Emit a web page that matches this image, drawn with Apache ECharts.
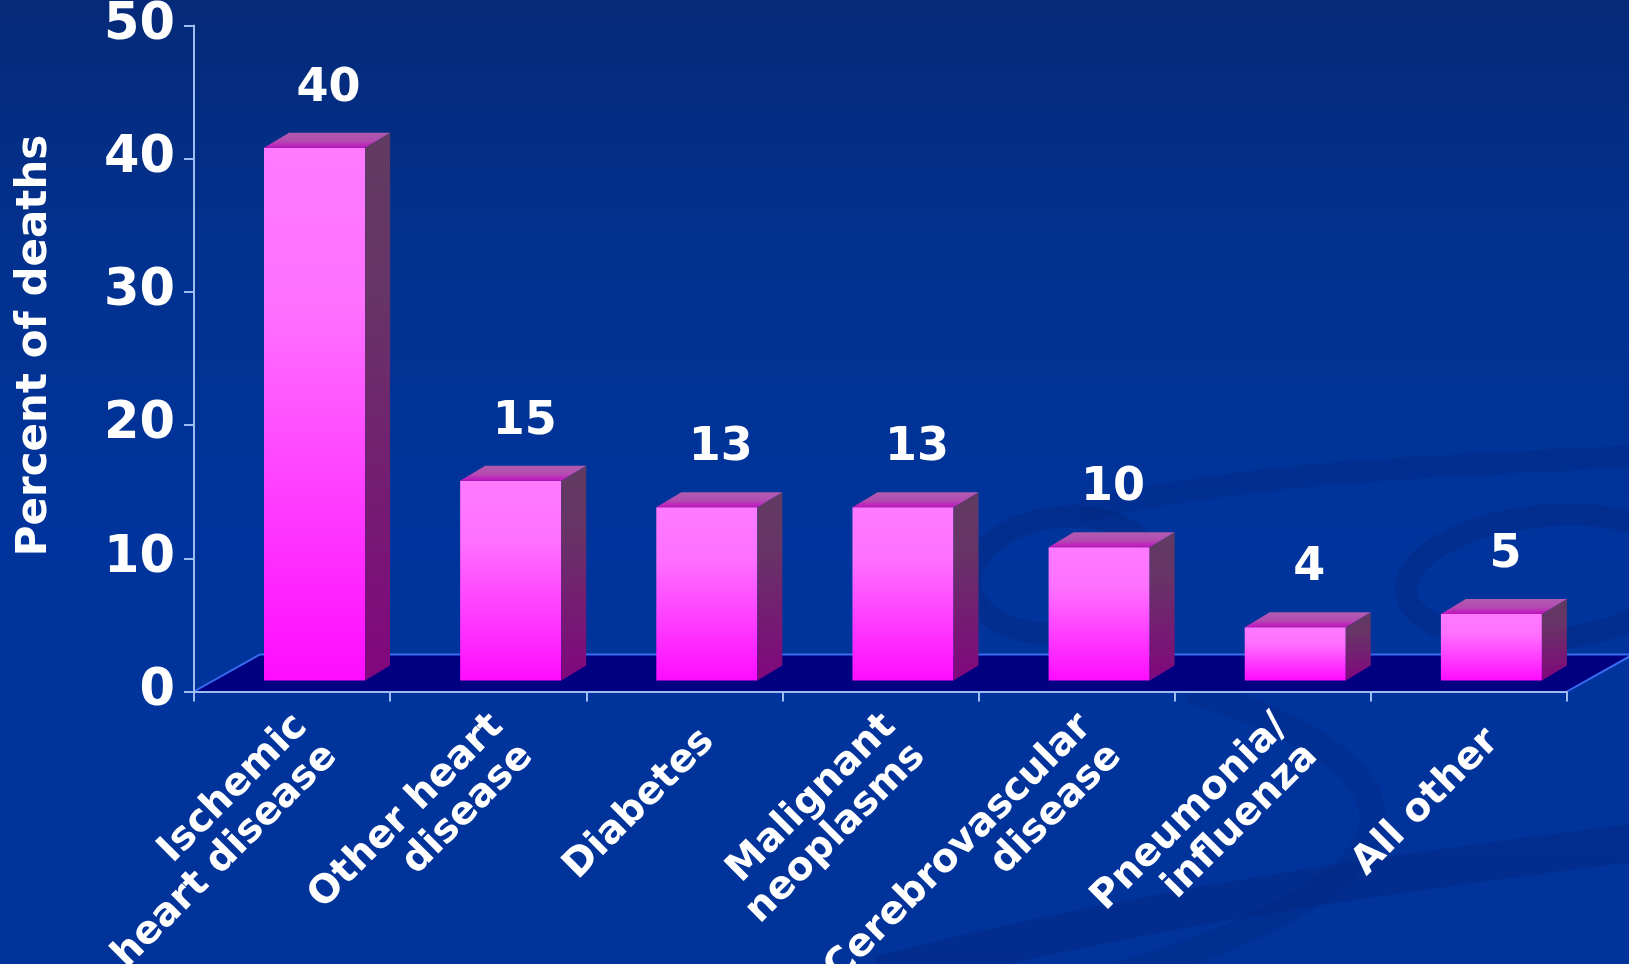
<!DOCTYPE html>
<html>
<head>
<meta charset="utf-8">
<script src="https://cdn.jsdelivr.net/npm/echarts@6/dist/echarts.min.js"></script>
<style>
  html, body { margin: 0; padding: 0; background: #00339a; }
  #chart { width: 1629px; height: 964px; }
</style>
</head>
<body>
<div id="chart"></div>
<script>
// Causes of death, share of all deaths (%)
const categories = [
  'Ischemic\nheart disease',
  'Other heart\ndisease',
  'Diabetes',
  'Malignant\nneoplasms',
  'Cerebrovascular\ndisease',
  'Pneumonia/\ninfluenza',
  'All other'
];
const percentOfDeaths = [40, 15, 13, 13, 10, 4, 5];
const yMin = 0;
const yMax = 50;
const yStep = 10;
const yTitle = 'Percent of deaths';

const FONT = '"DejaVu Sans", "Verdana", sans-serif';

// pseudo-3D geometry (pixels)
const FLOOR_DX = 66, FLOOR_DY = 37;    // depth of the floor plate
const BAR_DX = 25, BAR_DY = 15;        // depth of each block
const BAR_LIFT = 11;                    // front face sits a little back on the floor
const BAR_LEFT = 0.143, BAR_WIDTH = 0.515; // fractions of a category band

function vGrad(stops) {
  return new echarts.graphic.LinearGradient(0, 0, 0, 1,
    stops.map(([offset, color]) => ({ offset, color })));
}

function renderFloor(params, api) {
  const c0 = api.coord([0, yMin]);
  const band = api.size([1, 0])[0];
  const L = c0[0] - band / 2;
  const R = L + band * categories.length;
  const y0 = c0[1];
  return {
    type: 'group',
    children: [
      {
        type: 'polygon',
        shape: { points: [[L, y0], [R, y0], [R + FLOOR_DX, y0 - FLOOR_DY], [L + FLOOR_DX, y0 - FLOOR_DY]] },
        style: { fill: '#000080' }
      },
      {
        type: 'polyline',
        shape: { points: [[L, y0], [L + FLOOR_DX, y0 - FLOOR_DY], [R + FLOOR_DX, y0 - FLOOR_DY], [R, y0]] },
        style: { stroke: '#3a6cf2', lineWidth: 2, fill: null }
      }
    ]
  };
}

function renderBar(params, api) {
  const i = api.value(0);
  const v = api.value(1);
  const base = api.coord([i, yMin]);
  const top = api.coord([i, v]);
  const band = api.size([1, 0])[0];
  const w = band * BAR_WIDTH;
  const x0 = base[0] - band * BAR_LEFT;
  const yb = base[1] - BAR_LIFT;
  const yt = top[1] - BAR_LIFT;
  return {
    type: 'group',
    children: [
      {
        type: 'rect',
        shape: { x: x0, y: yt, width: w, height: yb - yt },
        style: { fill: vGrad([[0, '#ff7aff'], [0.3, '#ff70ff'], [1, '#ff0cff']]) }
      },
      {
        type: 'polygon',
        shape: { points: [[x0 + w, yt], [x0 + w + BAR_DX, yt - BAR_DY], [x0 + w + BAR_DX, yb - BAR_DY], [x0 + w, yb]] },
        style: { fill: vGrad([[0, '#603b62'], [0.3, '#673466'], [1, '#82067e']]) }
      },
      {
        type: 'polygon',
        shape: { points: [[x0, yt], [x0 + BAR_DX, yt - BAR_DY], [x0 + w + BAR_DX, yt - BAR_DY], [x0 + w, yt]] },
        style: { fill: vGrad([[0, '#b05cae'], [0.55, '#b44bb2'], [1, '#c212c0']]) }
      },
      {
        type: 'text',
        x: x0 + w / 2 + 14,
        y: yt - BAR_DY - 44,
        style: {
          text: String(v),
          fill: '#ffffff',
          fontSize: 46,
          fontWeight: 'bold',
          fontFamily: FONT,
          align: 'center',
          verticalAlign: 'middle'
        }
      }
    ]
  };
}

// rotated, right-aligned category labels under the axis
function renderCategoryLabel(params, api) {
  const i = api.value(0);
  const p = api.coord([i, yMin]);
  return {
    type: 'text',
    x: p[0] + 24,
    y: p[1] + 44,
    rotation: Math.PI / 4,
    style: {
      text: categories[i],
      fill: '#ffffff',
      fontSize: 39,
      fontWeight: 'bold',
      fontFamily: FONT,
      lineHeight: 42,
      align: 'right',
      verticalAlign: 'middle'
    }
  };
}

// faint ribbons in the backdrop
const swirlStyle = (w, a) => ({ stroke: 'rgba(6, 34, 116, ' + a + ')', lineWidth: w, fill: null });
const backdrop = [
  { type: 'ellipse', z: -5, x: 1062, y: 575, rotation: 0.12, shape: { cx: 0, cy: 0, rx: 92, ry: 58 }, style: swirlStyle(22, 0.32) },
  { type: 'ellipse', z: -5, x: 1545, y: 578, rotation: 0.1, shape: { cx: 0, cy: 0, rx: 140, ry: 62 }, style: swirlStyle(22, 0.3) },
  { type: 'bezierCurve', z: -5, shape: { x1: 1080, y1: 512, cpx1: 1250, cpy1: 470, cpx2: 1450, cpy2: 466, x2: 1640, y2: 456 }, style: swirlStyle(22, 0.22) },
  { type: 'bezierCurve', z: -5, shape: { x1: 1190, y1: 690, cpx1: 1420, cpy1: 760, cpx2: 1470, cpy2: 870, x2: 1120, y2: 975 }, style: swirlStyle(26, 0.22) },
  { type: 'bezierCurve', z: -5, shape: { x1: 880, y1: 975, cpx1: 1150, cpy1: 905, cpx2: 1420, cpy2: 870, x2: 1640, y2: 842 }, style: swirlStyle(38, 0.28) }
];

const chart = echarts.init(document.getElementById('chart'), null, { renderer: 'canvas' });

chart.setOption({
  animation: false,
  backgroundColor: {
    type: 'linear', x: 0, y: 0, x2: 0, y2: 1,
    colorStops: [
      { offset: 0, color: '#052a78' },
      { offset: 0.25, color: '#02318e' },
      { offset: 0.55, color: '#00349c' },
      { offset: 1, color: '#01339a' }
    ]
  },
  graphic: backdrop,
  grid: { left: 194, right: 62, top: 25.5, bottom: 272.5 },
  xAxis: {
    type: 'category',
    data: categories,
    z: 3,
    axisLine: { lineStyle: { color: '#9dbcf0', width: 2 } },
    axisTick: { show: true, length: 10, lineStyle: { color: '#9dbcf0', width: 2 } },
    axisLabel: { show: false },
    splitLine: { show: false }
  },
  yAxis: {
    type: 'value',
    min: yMin,
    max: yMax,
    interval: yStep,
    z: 3,
    name: yTitle,
    nameLocation: 'middle',
    nameRotate: 90,
    nameGap: 138,
    nameTextStyle: { color: '#ffffff', fontSize: 42, fontWeight: 'bold', fontFamily: FONT, padding: [0, 0, 0, 26] },
    axisLine: { show: true, lineStyle: { color: '#9dbcf0', width: 2 } },
    axisTick: { show: true, length: 10, lineStyle: { color: '#9dbcf0', width: 2 } },
    axisLabel: { color: '#ffffff', fontSize: 51, fontWeight: 'bold', fontFamily: FONT, margin: 19 },
    splitLine: { show: false }
  },
  series: [
    {
      name: 'floor',
      type: 'custom',
      z: 1,
      clip: false,
      silent: true,
      renderItem: renderFloor,
      data: [[0]]
    },
    {
      name: 'Percent of deaths',
      type: 'custom',
      z: 4,
      clip: false,
      renderItem: renderBar,
      encode: { x: 0, y: 1 },
      data: percentOfDeaths.map((v, i) => [i, v])
    },
    {
      name: 'category labels',
      type: 'custom',
      z: 4,
      clip: false,
      silent: true,
      renderItem: renderCategoryLabel,
      encode: { x: 0 },
      data: categories.map((c, i) => [i])
    }
  ]
});
</script>
</body>
</html>
